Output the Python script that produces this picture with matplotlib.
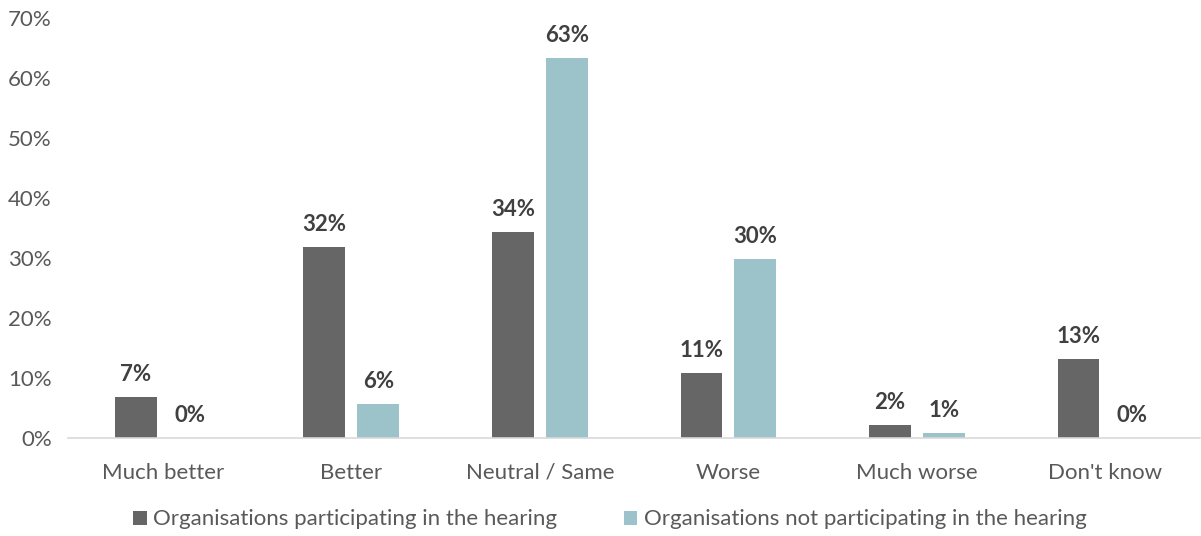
import matplotlib.pyplot as plt
import numpy as np

plt.rcParams['font.family'] = ['Lato', 'DejaVu Sans']

categories = ['Much better', 'Better', 'Neutral / Same', 'Worse', 'Much worse', "Don't know"]
participating = [6.8, 31.8, 34.3, 10.8, 2.2, 13.2]
not_participating = [0.0, 5.6, 63.4, 29.8, 0.9, 0.0]
series_names = ['Organisations participating in the hearing',
                'Organisations not participating in the hearing']
y_ticks = [0, 10, 20, 30, 40, 50, 60, 70]

dark = '#666666'
light = '#9bc3c9'
text_col = '#595959'

fig = plt.figure(figsize=(12.01, 5.36), dpi=100)
ax = fig.add_axes([0.057, 0.183, 0.942, 0.783])

x = np.arange(len(categories))
w = 0.222
off = 0.143
b1 = ax.bar(x - off, participating, w, color=dark, label=series_names[0])
b2 = ax.bar(x + off, not_participating, w, color=light, label=series_names[1])

for bars, vals in [(b1, participating), (b2, not_participating)]:
    for bar, v in zip(bars, vals):
        ax.text(bar.get_x() + bar.get_width() / 2, v + 2.0, f'{v:.0f}%',
                ha='center', va='bottom', fontsize=16, fontweight='bold',
                color='#404040')

ax.set_xlim(-0.5, len(categories) - 0.5)
ax.set_ylim(0, 70)
ax.set_yticks(y_ticks)
ax.set_yticklabels([f'{t}%' for t in y_ticks])
ax.set_xticks(x)
ax.set_xticklabels(categories)
ax.tick_params(axis='both', length=0, labelsize=16, labelcolor=text_col)
ax.tick_params(axis='x', pad=18)
ax.tick_params(axis='y', pad=12)

for s in ['top', 'right', 'left']:
    ax.spines[s].set_visible(False)
ax.spines['bottom'].set_color('#d9d9d9')
ax.spines['bottom'].set_linewidth(1.2)

leg = fig.legend(loc='lower center', bbox_to_anchor=(0.508, -0.025), ncol=2,
                 frameon=False, fontsize=16, handlelength=0.6, handleheight=0.6,
                 handletextpad=0.3, columnspacing=3.0)
for t in leg.get_texts():
    t.set_color(text_col)

fig.savefig('out.png', dpi=100)
